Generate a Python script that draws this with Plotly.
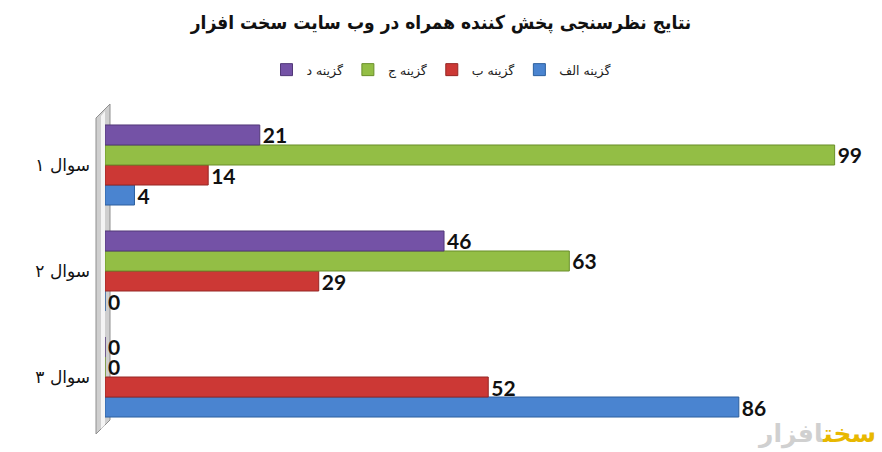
import plotly.graph_objects as go

categories = ["سوال ۱", "سوال ۲", "سوال ۳"]
series_names = ["گزینه الف", "گزینه ب", "گزینه ج", "گزینه د"]
values_alef = [4, 0, 86]
values_be = [14, 29, 52]
values_jim = [99, 63, 0]
values_dal = [21, 46, 0]
series_colors = ["#4a84d0", "#cc3835", "#93be45", "#7452a6"]
series_lines = ["#2c5f9e", "#962624", "#6a8f2a", "#523878"]
title_text = "نتایج نظرسنجی پخش کننده همراه در وب سایت سخت افزار"

W, H = 882, 452
L, R, T, B = 105, 40, 112, 22
PW, PH = W - L - R, H - T - B

def px_x(p):
    return (p - L) / PW

def px_y(p):
    return (H - B - p) / PH

fig = go.Figure()
all_values = [values_alef, values_be, values_jim, values_dal]
for name, vals, col, lc in zip(series_names, all_values, series_colors, series_lines):
    fig.add_trace(go.Bar(
        y=categories, x=vals, name=name, orientation="h",
        marker=dict(color=col, line=dict(color=lc, width=1)),
        text=[str(v) for v in vals], textposition="outside", constraintext="none",
        textfont=dict(family="Lato", size=21, color="#111111", weight="bold"),
        cliponaxis=False,
    ))

# 3D wall decoration at the left of the plot area
fig.add_shape(type="path", xref="paper", yref="paper",
              path=f"M {px_x(96)},{px_y(434)} L {px_x(96)},{px_y(118)} L {px_x(110)},{px_y(104)} L {px_x(110)},{px_y(420)} Z",
              fillcolor="#cfcfcf", line=dict(color="#8f8f8f", width=1), layer="below")
fig.add_shape(type="path", xref="paper", yref="paper",
              path=f"M {px_x(101)},{px_y(429)} L {px_x(101)},{px_y(116)} L {px_x(105)},{px_y(111)} L {px_x(105)},{px_y(425)} Z",
              fillcolor="#f4f4f4", line=dict(width=0), layer="below")

# watermark logo text
fig.add_annotation(xref="paper", yref="paper", x=px_x(878), y=px_y(451), xanchor="right", yanchor="bottom",
                   text="<b><span style='color:#e8b800'>سخت</span><span style='color:#d0d0d0'>افزار</span></b>",
                   showarrow=False, font=dict(family="DejaVu Sans", size=25))

fig.update_layout(
    width=W, height=H,
    margin=dict(l=L, r=R, t=T, b=B),
    paper_bgcolor="white", plot_bgcolor="white",
    barmode="group", bargap=0.245, bargroupgap=0,
    title=dict(text=f"<b>{title_text}</b>", x=0.5, xref="container", xanchor="center",
               y=1 - 22 / H, yref="container", yanchor="middle",
               font=dict(family="DejaVu Sans Condensed", size=19, color="#111111")),
    legend=dict(orientation="h", traceorder="reversed", x=0.5, xref="container", xanchor="center",
                y=1 - 70 / H, yref="container", yanchor="middle",
                font=dict(family="DejaVu Sans", size=12.5, color="#222222"),
                itemwidth=30, bgcolor="rgba(0,0,0,0)"),
    xaxis=dict(range=[0, 100], visible=False, showgrid=False, zeroline=False),
    yaxis=dict(type="category", categoryorder="array", categoryarray=categories[::-1],
               showgrid=False, zeroline=False, showline=False, ticks="",
               ticklabelstandoff=14, automargin=False,
               tickfont=dict(family="DejaVu Sans", size=17, color="#111111")),
    showlegend=True,
)

fig.write_html("out.html", config={"displayModeBar": False},
               post_script="document.body.style.margin='0';")
